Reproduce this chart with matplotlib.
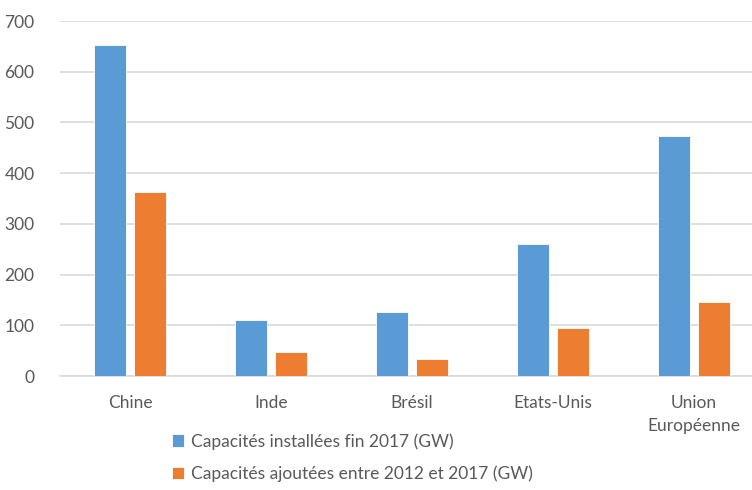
import matplotlib
matplotlib.use("Agg")
import matplotlib.pyplot as plt
import numpy as np

plt.rcParams['font.family'] = ['Lato', 'DejaVu Sans']

categories = ["Chine", "Inde", "Brésil", "Etats-Unis", "Union\nEuropéenne"]
installed_2017 = [653, 110, 126, 260, 474]
added_2012_2017 = [363, 48, 34, 95, 145]
series_labels = ["Capacités installées fin 2017 (GW)",
                 "Capacités ajoutées entre 2012 et 2017 (GW)"]
y_ticks = [0, 100, 200, 300, 400, 500, 600, 700]

W, H = 752, 490
fig = plt.figure(figsize=(W / 100, H / 100), dpi=100)
ax = fig.add_axes([59.5 / W, (H - 376) / H, 705 / W, 355 / H])

x = np.arange(len(categories))
bw = 0.227
off = 0.142
blue = "#5B9BD5"
orange = "#ED7D31"
b1 = ax.bar(x - off, installed_2017, bw, color=blue, edgecolor="white", linewidth=0.6,
            label=series_labels[0], zorder=3)
b2 = ax.bar(x + off, added_2012_2017, bw, color=orange, edgecolor="white", linewidth=0.6,
            label=series_labels[1], zorder=3)

ax.set_xlim(-0.5, len(categories) - 0.5)
ax.set_ylim(0, 700)
ax.set_yticks(y_ticks)
ax.set_xticks(x)
ax.set_xticklabels(categories, linespacing=1.5)
ax.grid(axis="y", color="#d9d9d9", linewidth=1.2, zorder=0)
for s in ["top", "right", "left"]:
    ax.spines[s].set_visible(False)
ax.spines["bottom"].set_color("#d9d9d9")
ax.spines["bottom"].set_linewidth(1.2)
ax.tick_params(axis="both", length=0, labelsize=12.5, colors="#595959")
ax.tick_params(axis="x", pad=14)
ax.tick_params(axis="y", pad=18)

leg = fig.legend(handles=[b1, b2], labels=series_labels,
                 loc="upper left", bbox_to_anchor=(172 / W, (H - 433) / H),
                 frameon=False, fontsize=12.5, labelcolor="#595959",
                 handlelength=0.7, handleheight=0.7, handletextpad=0.4,
                 labelspacing=0.9, borderaxespad=0, borderpad=0)

fig.savefig("out.png", dpi=100)
